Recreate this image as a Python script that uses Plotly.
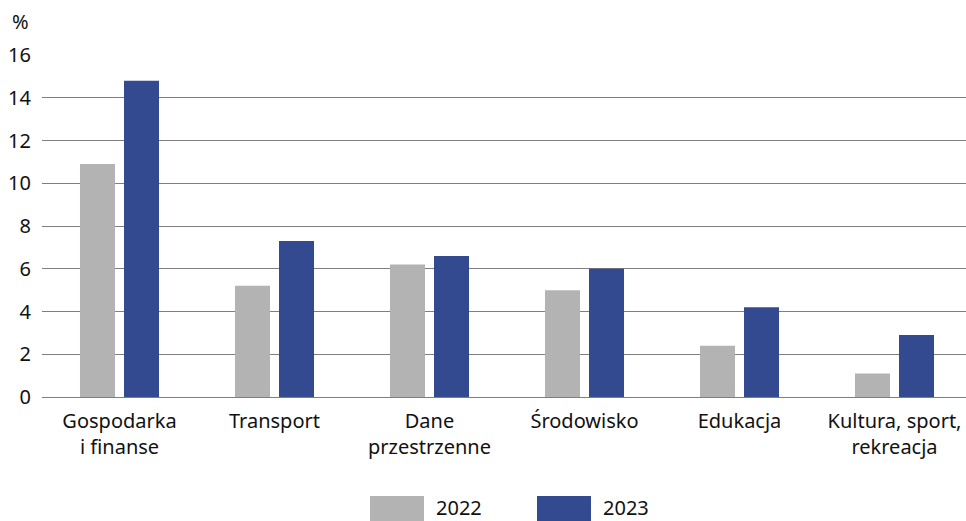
import plotly.graph_objects as go

categories = ["Gospodarka<br>i finanse", "Transport", "Dane<br>przestrzenne", "Środowisko", "Edukacja", "Kultura, sport,<br>rekreacja"]
values_2022 = [10.9, 5.2, 6.2, 5.0, 2.4, 1.1]
values_2023 = [14.8, 7.3, 6.6, 6.0, 4.2, 2.9]
series_names = ["2022", "2023"]
y_ticks = [0, 2, 4, 6, 8, 10, 12, 14, 16]

GRAY = "#b3b3b3"
BLUE = "#334a91"
FONT = "Noto Sans"

fig = go.Figure()
fig.add_trace(go.Bar(x=categories, y=values_2022, name=series_names[0], marker=dict(color=GRAY, line=dict(width=0)), showlegend=False))
fig.add_trace(go.Bar(x=categories, y=values_2023, name=series_names[1], marker=dict(color=BLUE, line=dict(width=0)), showlegend=False))

W, H = 966, 521
ml, mr, mt, mb = 42, 0, 55, 124
pw = W - ml - mr
ph = H - mt - mb

def px2x(px):
    return (px - ml) / pw

def py2y(py):
    return (H - mb - py) / ph

fig.update_layout(
    width=W, height=H,
    margin=dict(l=ml, r=mr, t=mt, b=mb, pad=0, autoexpand=False),
    plot_bgcolor="white", paper_bgcolor="white",
    barmode="group", bargap=0.432, bargroupgap=0.205,
    font=dict(family=FONT, size=20, color="#111111"),
    xaxis=dict(range=[-0.5, -0.5 + pw / 155.0], showgrid=False, showline=False, ticks="",
               tickfont=dict(size=20), fixedrange=True, automargin=False, ticklabelstandoff=10),
    yaxis=dict(range=[0, 16], tickvals=y_ticks, showgrid=True, gridcolor="#7f7f7f", gridwidth=1.3,
               zeroline=True, zerolinecolor="#7f7f7f", zerolinewidth=1.3, showline=False, ticks="",
               ticklabelstandoff=10, tickfont=dict(size=20), automargin=False, fixedrange=True),
)

fig.add_annotation(text="%", xref="paper", yref="paper", x=px2x(20), y=py2y(22), showarrow=False,
                   font=dict(size=20), xanchor="center", yanchor="middle")

legend_items = [(series_names[0], GRAY, 370), (series_names[1], BLUE, 537)]
for name, color, x0 in legend_items:
    fig.add_shape(type="rect", xref="paper", yref="paper", x0=px2x(x0), x1=px2x(x0 + 54),
                  y0=py2y(496), y1=py2y(521), fillcolor=color, line=dict(width=0))
    fig.add_annotation(text=name, xref="paper", yref="paper", x=px2x(x0 + 64), y=py2y(508),
                       showarrow=False, xanchor="left", yanchor="middle", font=dict(size=20))

fig.write_html("out.html", config={"displayModeBar": False},
               post_script="document.body.style.margin='0';document.body.style.overflow='hidden';")
